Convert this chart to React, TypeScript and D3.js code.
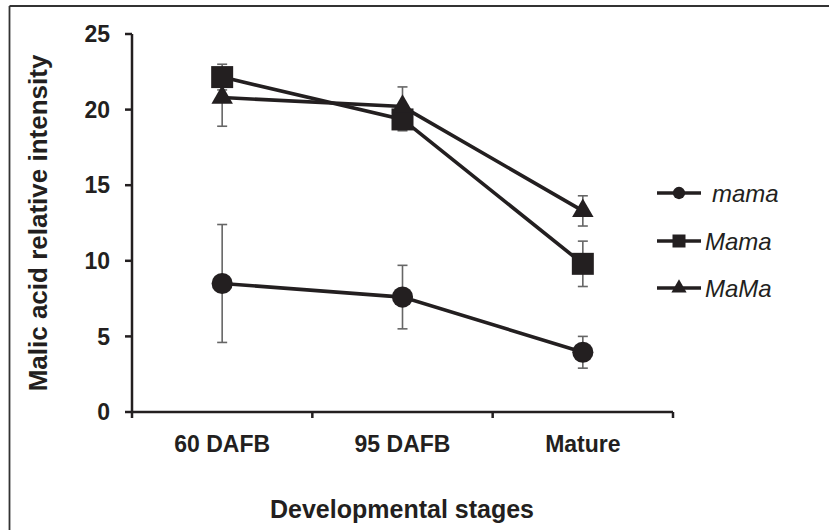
import React from "react";
import * as d3 from "d3";

const stages = ["60 DAFB", "95 DAFB", "Mature"];
const seriesNames = ["mama", "Mama", "MaMa"];
const mamaMean = [8.5, 7.6, 3.95];
const mamaErr = [3.9, 2.1, 1.05];
const MamaMean = [22.15, 19.35, 9.8];
const MamaErr = [0.85, 0.75, 1.5];
const MaMaMean = [20.8, 20.2, 13.3];
const MaMaErr = [1.9, 1.3, 1.0];
const yTicks = [0, 5, 10, 15, 20, 25];

const W = 829;
const H = 530;
const ink = "#231f20";
const font = "Liberation Sans, Arial, sans-serif";

export default function App() {
  const x = d3.scaleBand().domain(stages).range([132, 673]);
  const y = d3.scaleLinear().domain([0, 25]).range([412, 34]);
  const cx = (s: string) => (x(s) as number) + x.bandwidth() / 2;

  const series = [
    { name: seriesNames[0], mean: mamaMean, err: mamaErr, shape: d3.symbolCircle, size: 350, lsize: 120 },
    { name: seriesNames[1], mean: MamaMean, err: MamaErr, shape: d3.symbolSquare, size: 484, lsize: 169 },
    { name: seriesNames[2], mean: MaMaMean, err: MaMaErr, shape: d3.symbolTriangle, size: 200, lsize: 100 },
  ];

  const line = d3
    .line<number>()
    .x((d, i) => cx(stages[i]))
    .y(d => y(d));

  const xEdges = [...stages.map(s => x(s) as number), 673];
  const legendY = [193, 241, 288];
  const legendTx = [712, 705, 705];

  return (
    <svg width={W} height={H} style={{ position: "absolute", left: 0, top: 0 }} fontFamily={font}>
      <rect width={W} height={H} fill="#fff" />
      {/* frame, cut at right and bottom */}
      <line x1={9.5} y1={6} x2={W} y2={6} stroke="#333" strokeWidth={1.8} />
      <line x1={9.5} y1={6} x2={9.5} y2={H} stroke="#333" strokeWidth={1.8} />

      {/* y axis */}
      <line x1={132} y1={y(25)} x2={132} y2={y(0)} stroke={ink} strokeWidth={2.5} />
      {yTicks.map(t => (
        <g key={t}>
          <line x1={125} x2={132} y1={y(t)} y2={y(t)} stroke={ink} strokeWidth={2.5} />
          <text x={110} y={y(t)} dy="0.36em" textAnchor="end" fontSize={23} fontWeight="bold" fill={ink}>
            {t}
          </text>
        </g>
      ))}

      {/* x axis */}
      <line x1={132} y1={y(0)} x2={673} y2={y(0)} stroke={ink} strokeWidth={2.5} />
      {xEdges.map((e, i) => (
        <line key={i} x1={e} x2={e} y1={y(0)} y2={y(0) + 6} stroke={ink} strokeWidth={2.5} />
      ))}
      {stages.map(s => (
        <text key={s} x={cx(s)} y={452} textAnchor="middle" fontSize={23} fontWeight="bold" fill={ink}>
          {s}
        </text>
      ))}

      <text x={402} y={518} textAnchor="middle" fontSize={25} fontWeight="bold" fill={ink}>
        Developmental stages
      </text>
      <text
        transform={`translate(47,${(y(0) + y(25)) / 2}) rotate(-90)`}
        textAnchor="middle"
        fontSize={26}
        fontWeight="bold"
        fill={ink}
      >
        Malic acid relative intensity
      </text>

      {/* error bars */}
      {series.map(s =>
        s.mean.map((m, i) => {
          const px = cx(stages[i]);
          return (
            <g key={s.name + i} stroke="#666" strokeWidth={1.6}>
              <line x1={px} x2={px} y1={y(m + s.err[i])} y2={y(m - s.err[i])} />
              <line x1={px - 5} x2={px + 5} y1={y(m + s.err[i])} y2={y(m + s.err[i])} />
              <line x1={px - 5} x2={px + 5} y1={y(m - s.err[i])} y2={y(m - s.err[i])} />
            </g>
          );
        })
      )}

      {/* lines */}
      {series.map(s => (
        <path key={s.name} d={line(s.mean) || ""} fill="none" stroke={ink} strokeWidth={3.6} />
      ))}

      {/* markers */}
      {series.map(s =>
        s.mean.map((m, i) => (
          <path
            key={s.name + "m" + i}
            d={d3.symbol().type(s.shape).size(s.size)() || ""}
            transform={`translate(${cx(stages[i])},${y(m)})`}
            fill={ink}
          />
        ))
      )}

      {/* legend */}
      {series.map((s, i) => (
        <g key={s.name + "leg"}>
          <line x1={657} x2={701} y1={legendY[i]} y2={legendY[i]} stroke={ink} strokeWidth={3.5} />
          <path
            d={d3.symbol().type(s.shape).size(s.lsize)() || ""}
            transform={`translate(679,${legendY[i]})`}
            fill={ink}
          />
          <text x={legendTx[i]} y={legendY[i]} dy="0.36em" fontSize={24} fontStyle="italic" fill={ink}>
            {s.name}
          </text>
        </g>
      ))}
    </svg>
  );
}
